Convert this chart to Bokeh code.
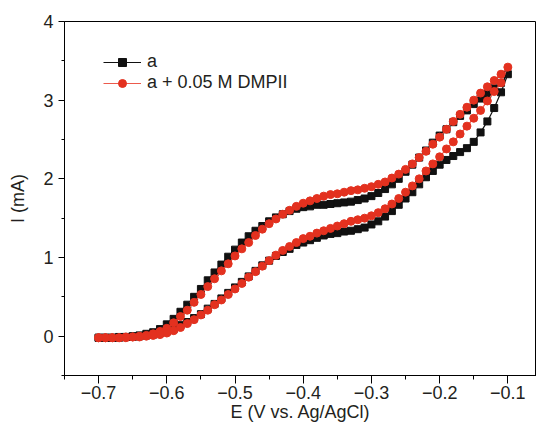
from bokeh.plotting import figure
from bokeh.models import Range1d, FixedTicker, Legend, LegendItem
from bokeh.embed import file_html
from bokeh.resources import INLINE

# ---- data (potential sweep, V vs Ag/AgCl) ----
E_forward = [-0.70, -0.69, -0.68, -0.67, -0.66, -0.65, -0.64, -0.63, -0.62, -0.61,
             -0.60, -0.59, -0.58, -0.57, -0.56, -0.55, -0.54, -0.53, -0.52, -0.51,
             -0.50, -0.49, -0.48, -0.47, -0.46, -0.45, -0.44, -0.43, -0.42, -0.41,
             -0.40, -0.39, -0.38, -0.37, -0.36, -0.35, -0.34, -0.33, -0.32, -0.31,
             -0.30, -0.29, -0.28, -0.27, -0.26, -0.25, -0.24, -0.23, -0.22, -0.21,
             -0.20, -0.19, -0.18, -0.17, -0.16, -0.15, -0.14, -0.13, -0.12, -0.11,
             -0.10]
E_reverse = [-0.11, -0.12, -0.13, -0.14, -0.15, -0.16, -0.17, -0.18, -0.19, -0.20,
             -0.21, -0.22, -0.23, -0.24, -0.25, -0.26, -0.27, -0.28, -0.29, -0.30,
             -0.31, -0.32, -0.33, -0.34, -0.35, -0.36, -0.37, -0.38, -0.39, -0.40,
             -0.41, -0.42, -0.43, -0.44, -0.45, -0.46, -0.47, -0.48, -0.49, -0.50,
             -0.51, -0.52, -0.53, -0.54, -0.55, -0.56, -0.57, -0.58, -0.59, -0.60,
             -0.61, -0.62, -0.63, -0.64, -0.65, -0.66, -0.67, -0.68, -0.69, -0.70]

# series "a" (mA)
a_forward = [-0.02, -0.02, -0.02, -0.01, -0.01, 0.00, 0.01, 0.03, 0.05, 0.09,
             0.15, 0.22, 0.31, 0.40, 0.50, 0.60, 0.71, 0.81, 0.91, 1.01,
             1.10, 1.19, 1.27, 1.34, 1.40, 1.46, 1.51, 1.55, 1.59, 1.62,
             1.64, 1.65, 1.67, 1.67, 1.68, 1.69, 1.70, 1.71, 1.73, 1.75,
             1.78, 1.82, 1.87, 1.93, 2.00, 2.09, 2.18, 2.27, 2.36, 2.46,
             2.55, 2.63, 2.72, 2.80, 2.87, 2.95, 3.02, 3.08, 3.15, 3.22,
             3.33]
a_reverse = [3.10, 2.90, 2.73, 2.59, 2.47, 2.39, 2.34, 2.29, 2.24, 2.18,
             2.10, 2.02, 1.93, 1.83, 1.75, 1.67, 1.59, 1.52, 1.46, 1.42,
             1.38, 1.36, 1.34, 1.33, 1.31, 1.30, 1.28, 1.25, 1.22, 1.19,
             1.16, 1.11, 1.07, 1.02, 0.96, 0.90, 0.83, 0.76, 0.69, 0.62,
             0.55, 0.48, 0.41, 0.35, 0.28, 0.23, 0.18, 0.14, 0.09, 0.06,
             0.04, 0.02, 0.01, 0.00, -0.01, -0.01, -0.02, -0.02, -0.02, -0.02]

# series "a + 0.05 M DMPII" (mA)
b_forward = [-0.02, -0.02, -0.02, -0.02, -0.01, -0.01, 0.00, 0.01, 0.03, 0.06,
             0.10, 0.17, 0.25, 0.33, 0.43, 0.53, 0.63, 0.73, 0.83, 0.92,
             1.02, 1.11, 1.19, 1.28, 1.36, 1.43, 1.49, 1.55, 1.60, 1.65,
             1.69, 1.72, 1.75, 1.78, 1.80, 1.81, 1.83, 1.85, 1.86, 1.88,
             1.90, 1.93, 1.96, 2.01, 2.06, 2.12, 2.19, 2.27, 2.35, 2.44,
             2.53, 2.63, 2.73, 2.82, 2.91, 3.00, 3.09, 3.17, 3.25, 3.33,
             3.42]
b_reverse = [3.22, 3.11, 2.99, 2.87, 2.77, 2.67, 2.57, 2.47, 2.38, 2.28,
             2.19, 2.10, 2.00, 1.91, 1.83, 1.75, 1.68, 1.62, 1.57, 1.53,
             1.50, 1.48, 1.46, 1.43, 1.40, 1.37, 1.34, 1.31, 1.27, 1.24,
             1.19, 1.14, 1.09, 1.03, 0.96, 0.89, 0.82, 0.75, 0.67, 0.60,
             0.53, 0.46, 0.40, 0.33, 0.27, 0.21, 0.16, 0.11, 0.07, 0.04,
             0.02, 0.01, 0.00, -0.01, -0.01, -0.02, -0.02, -0.02, -0.02, -0.02]

series_names = ["a", "a + 0.05 M DMPII"]

x_ticks = [-0.7, -0.6, -0.5, -0.4, -0.3, -0.2, -0.1]
x_tick_labels = ["\u22120.7", "\u22120.6", "\u22120.5", "\u22120.4", "\u22120.3", "\u22120.2", "\u22120.1"]
x_minor = [-0.75, -0.65, -0.55, -0.45, -0.35, -0.25, -0.15, -0.05]
y_ticks = [0, 1, 2, 3, 4]
y_tick_labels = ["0", "1", "2", "3", "4"]
y_minor = [-0.5, 0.5, 1.5, 2.5, 3.5]

x_title = "E (V vs. Ag/AgCl)"
y_title = "I (mA)"

FONT = "Liberation Sans"
TXT = "#231f20"

E_all = E_forward + E_reverse
a_all = a_forward + a_reverse
b_all = b_forward + b_reverse

W, H = 536, 430
BL, BT, BB, BR = 64, 21, 55, 0
X0, X1 = -0.75, -0.058
Y0, Y1 = -0.5, 4.0

p = figure(width=W, height=H, output_backend="svg", toolbar_location=None,
           x_range=Range1d(X0, X1), y_range=Range1d(Y0, Y1),
           min_border_left=BL, min_border_right=BR, min_border_top=BT, min_border_bottom=BB,
           x_axis_label=x_title, y_axis_label=y_title)
p.background_fill_color = "white"
p.border_fill_color = "white"
p.outline_line_color = "black"
p.outline_line_width = 1
p.xgrid.grid_line_color = None
p.ygrid.grid_line_color = None

p.xaxis.ticker = FixedTicker(ticks=x_ticks, minor_ticks=x_minor)
p.yaxis.ticker = FixedTicker(ticks=y_ticks, minor_ticks=y_minor)
p.xaxis.major_label_overrides = {t: l for t, l in zip(x_ticks, x_tick_labels)}
p.yaxis.major_label_overrides = {t: l for t, l in zip(y_ticks, y_tick_labels)}

for ax in (p.xaxis[0], p.yaxis[0]):
    ax.axis_line_color = "black"
    ax.axis_line_width = 1
    ax.major_tick_line_color = "black"
    ax.minor_tick_line_color = "black"
    ax.major_tick_in = 0
    ax.minor_tick_in = 0
    ax.major_label_text_font = FONT
    ax.major_label_text_font_size = "18px"
    ax.major_label_text_color = TXT
    ax.axis_label_text_font = FONT
    ax.axis_label_text_font_size = "18px"
    ax.axis_label_text_font_style = "normal"
    ax.axis_label_text_color = TXT
p.xaxis.major_tick_out = 8
p.xaxis.minor_tick_out = 4
p.xaxis.major_label_standoff = 2
p.xaxis.axis_label_standoff = 0
p.yaxis.major_tick_out = 6
p.yaxis.minor_tick_out = 3
p.yaxis.major_label_standoff = 5
p.yaxis.axis_label_standoff = 12

black = "#111111"
red_m = "#e3311f"
red_l = "#ec5a4c"

l1 = p.line(E_all, a_all, line_color=black, line_width=1.2)
s1 = p.scatter(E_all, a_all, marker="square", size=7, fill_color=black, line_color=black)
l2 = p.line(E_all, b_all, line_color=red_l, line_width=1.2)
s2 = p.scatter(E_all, b_all, marker="circle", size=8, fill_color=red_m, line_color=red_m)

legend = Legend(items=[LegendItem(label=series_names[0], renderers=[l1, s1]),
                       LegendItem(label=series_names[1], renderers=[l2, s2])],
                location=(39, 282), glyph_width=38, glyph_height=20, label_height=20,
                spacing=0, padding=0, margin=0, label_standoff=6,
                border_line_color=None, background_fill_alpha=0,
                label_text_font=FONT, label_text_font_size="18px", label_text_color=TXT)
p.add_layout(legend)

open("out.html", "w").write(file_html(p, INLINE))
